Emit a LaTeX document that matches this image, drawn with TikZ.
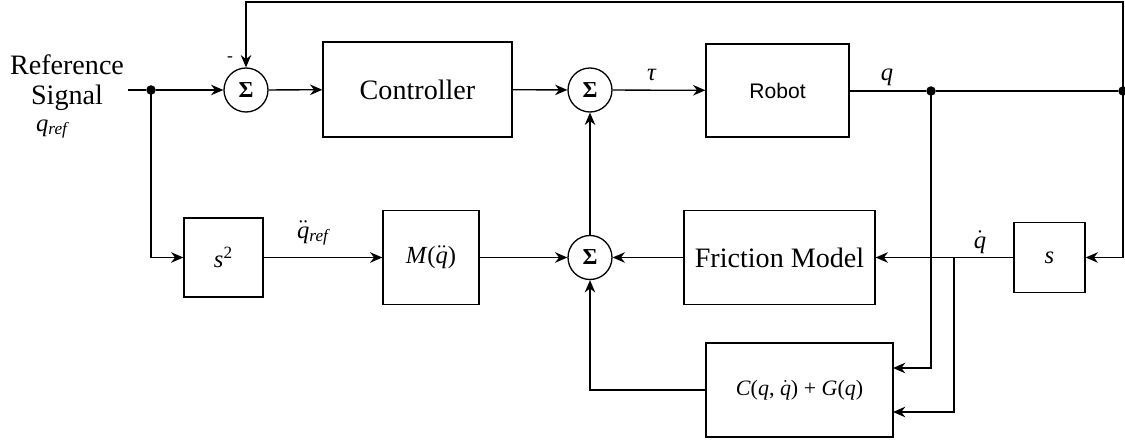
\documentclass[tikz,border=0pt]{standalone}
\usepackage{fontspec}
\setmainfont{Liberation Serif}
\newfontfamily\robotfont{Liberation Sans}
\usetikzlibrary{arrows.meta}
\newcommand\vq{\hbox{\itshape q}}
\begin{document}
\begin{tikzpicture}[x=0.02cm,y=-0.02cm,
    bdBlk/.style={draw,line width=0.75pt,inner sep=0pt},
    bdSum/.style={draw,circle,line width=0.75pt,minimum size=0.88cm,inner sep=0pt,font=\bfseries\fontsize{13}{15}\selectfont},
    bdDot/.style={fill,circle,inner sep=0pt,minimum size=0.19cm},
    bdLn/.style={line width=0.75pt},
    bdArr/.style={line width=0.75pt,-{Stealth[length=7pt,width=6pt]}},
    bdBig/.style={font=\fontsize{16}{19}\selectfont},
    bdMath/.style={font=\fontsize{14}{16}\selectfont},
]
\useasboundingbox (0,0) rectangle (1125,442);
% Input
\node[bdBig,align=center] (refTxt) at (67,83) {Reference\\[-2pt]Signal};
\node[bdMath,inner sep=1pt] (qRef) at (53,129) {\textit{q}\textsubscript{\textit{ref}}};
\coordinate (inStart) at (128,90);
\node[bdDot] (dIn) at (151,90) {};
% Summing junctions
\node[bdSum] (sumA) at (246,90) {Σ};
\node[bdSum] (sumB) at (590,90) {Σ};
\node[bdSum] (sumC) at (590,257.5) {Σ};
\node[font=\fontsize{10}{12}\selectfont] (mMinus) at (230,59) {-};
% Blocks
\node[bdBlk,bdBig,minimum width=3.78cm,minimum height=1.9cm] (ctrl) at (417.5,89.5) {Controller};
\node[bdBlk,minimum width=2.86cm,minimum height=1.86cm,font=\robotfont\fontsize{12}{14}\selectfont] (robot) at (777.5,90.5) {Robot};
\node[bdBlk,bdMath,minimum width=1.58cm,minimum height=1.58cm] (sSq) at (223.5,257.5) {\textit{s}\textsuperscript{2}};
\node[bdBlk,bdMath,minimum width=1.92cm,minimum height=1.88cm] (mass) at (431,257.5) {\textit{M}($\ddot{\vq}$)};
\node[bdBlk,bdBig,minimum width=3.82cm,minimum height=1.88cm] (fric) at (779.5,257.5) {Friction Model};
\node[bdBlk,bdMath,minimum width=1.42cm,minimum height=1.4cm] (sDer) at (1049.5,257.5) {\textit{s}};
\node[bdBlk,minimum width=3.74cm,minimum height=1.88cm,font=\fontsize{12.5}{15}\selectfont] (cg) at (799.5,390) {\textit{C}(\textit{q}, $\dot{\vq}$) + \textit{G}(\textit{q})};
% Output taps
\node[bdDot] (dQ) at (931,91) {};
\node[bdDot] (dR) at (1123,91) {};
\coordinate (cTop) at (1123,2);
\coordinate (bQd) at (954,257.5);
\coordinate (cgInQ) at (893,368);
\coordinate (cgInQd) at (893,412);
% Signal labels
\node[bdMath] (lTau) at (652,75) {\textit{τ}};
\node[bdMath] (lQ) at (887,77) {\textit{q}};
\node[bdMath] (lQd) at (980,242) {$\dot{\vq}$};
\node[bdMath] (lQdd) at (314,233) {$\ddot{\vq}$\textsubscript{\textit{ref}}};
% Forward path
\draw[bdLn] (inStart) -- (dIn);
\draw[bdArr] (dIn) -- (sumA);
\draw[bdArr] (sumA) -- (ctrl);
\draw[bdArr] (ctrl) -- (sumB);
\draw[bdArr] (sumB) -- (robot);
\draw[bdLn] (robot.east |- dQ) -- (dQ) -- (dR);
% Feedback paths
\draw[bdArr] (dR.center) -- (cTop) -| (sumA.north);
\draw[bdArr] (dR.center) |- (sDer.east);
\draw[bdArr] (sDer) -- (fric);
\draw[bdArr] (dQ.center) |- (cgInQ);
\draw[bdArr] (bQd) |- (cgInQd);
\draw[bdArr] (fric) -- (sumC);
\draw[bdArr] (dIn.center) |- (sSq.west);
\draw[bdArr] (sSq) -- (mass);
\draw[bdArr] (mass) -- (sumC);
\draw[bdArr] (cg.west) -| (sumC.south);
\draw[bdArr] (sumC) -- (sumB);
\end{tikzpicture}
\end{document}
